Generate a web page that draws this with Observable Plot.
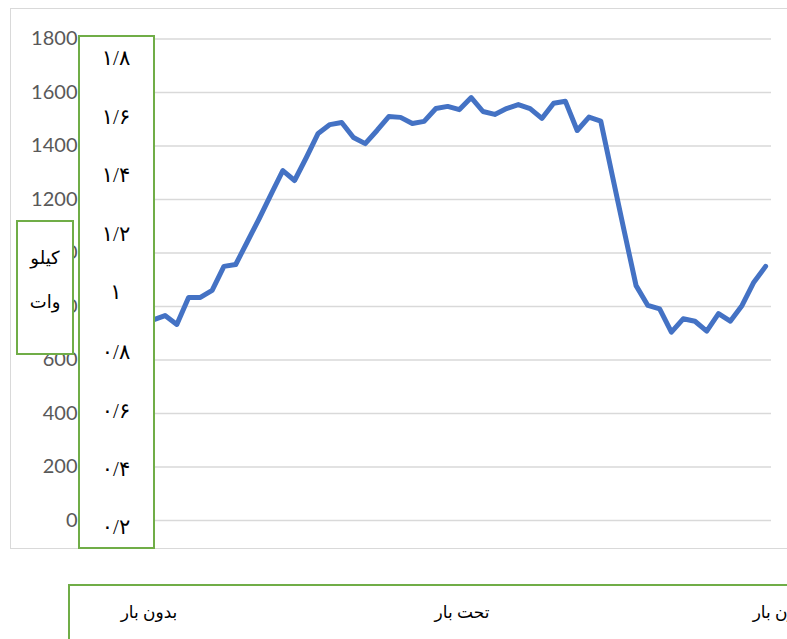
<!DOCTYPE html>
<html>
<head>
<meta charset="utf-8">
<script src="https://cdn.jsdelivr.net/npm/d3@7"></script>
<script src="https://cdn.jsdelivr.net/npm/@observablehq/plot@0.6"></script>
<style>
  html, body { margin: 0; padding: 0; background: #fff; }
  #page { position: relative; width: 787px; height: 639px; overflow: hidden; background: #fff; }
  #frame { position: absolute; left: 10px; top: 8px; width: 800px; height: 541px; border: 1.5px solid #d9d9d9; box-sizing: border-box; }
  #chart { position: absolute; left: 0; top: 0; }
  .gbox { position: absolute; background: #fff; border: 2px solid #70AD47; box-sizing: border-box; }
  .ptxt { position: absolute; font-family: "Times New Roman", "DejaVu Sans", serif; color: #000; white-space: nowrap; transform: translate(-50%, -50%); }
</style>
</head>
<body>
<div id="page">
  <div id="frame"></div>
  <div id="chart"></div>
  <div id="box1" class="gbox" style="left:78px; top:35px; width:77px; height:514px;"></div>
  <div id="box2" class="gbox" style="left:16px; top:220px; width:58px; height:135px;"></div>
  <div id="box3" class="gbox" style="left:68px; top:584px; width:760px; height:80px;"></div>
</div>
<script>
// ---- data ----
const pointIndex = [6,7,8,9,10,11,12,13,14,15,16,17,18,19,20,21,22,23,24,25,26,27,28,29,30,31,32,33,34,35,36,37,38,39,40,41,42,43,44,45,46,47,48,49,50,51,52,53,54,55,56,57,58];
const loadKW = [750,766,733,834,834,860,950,957,1043,1129,1219,1308,1271,1357,1447,1480,1488,1432,1409,1458,1510,1507,1484,1492,1540,1548,1536,1581,1529,1518,1540,1555,1540,1503,1560,1567,1458,1508,1493,1286,1080,878,804,791,704,754,745,708,773,745,804,891,950];
const yTicks = [0,200,400,600,800,1000,1200,1400,1600,1800];
const persianTicks = ["۱/۸","۱/۶","۱/۴","۱/۲","۱","۰/۸","۰/۶","۰/۴","۰/۲"];
const unitLabel = ["کیلو","وات"];
const stateLabels = ["بدون بار","تحت بار","بدون بار"];

const rows = pointIndex.map((c, i) => ({c, v: loadKW[i]}));

const chart = Plot.plot({
  width: 787,
  height: 560,
  marginLeft: 88,
  marginRight: 16,
  marginTop: 38.5,
  marginBottom: 40,
  x: {domain: [0.5, 58.5], axis: null},
  y: {domain: [0, 1800], axis: null},
  style: {fontFamily: "Lato, 'Open Sans', sans-serif", fontSize: "20px", color: "#595959", background: "transparent", overflow: "visible"},
  marks: [
    Plot.gridY(yTicks, {stroke: "#d9d9d9", strokeOpacity: 1, strokeWidth: 1.5}),
    Plot.axisY(yTicks, {tickSize: 0, tickPadding: 11, fill: "#595959", fontSize: 20, label: null, tickFormat: d => String(d)}),
    Plot.line(rows, {x: "c", y: "v", stroke: "#4472C4", strokeWidth: 5, strokeLinejoin: "round", strokeLinecap: "round"})
  ]
});
document.getElementById("chart").appendChild(chart);

// ---- overlay text boxes ----
const page = document.getElementById("page");
function addText(str, x, y, size) {
  const d = document.createElement("div");
  d.className = "ptxt";
  d.textContent = str;
  d.style.left = x + "px";
  d.style.top = y + "px";
  d.style.fontSize = size + "px";
  page.appendChild(d);
}
const persianY = [58,117,175,234,292,352,411,469,527];
persianTicks.forEach((t, i) => addText(t, 116, persianY[i], 21));
addText(unitLabel[0], 45, 258, 18);
addText(unitLabel[1], 45, 302, 18);
const stateX = [149, 462, 781];
stateLabels.forEach((t, i) => addText(t, stateX[i], 612, 17));
</script>
</body>
</html>
